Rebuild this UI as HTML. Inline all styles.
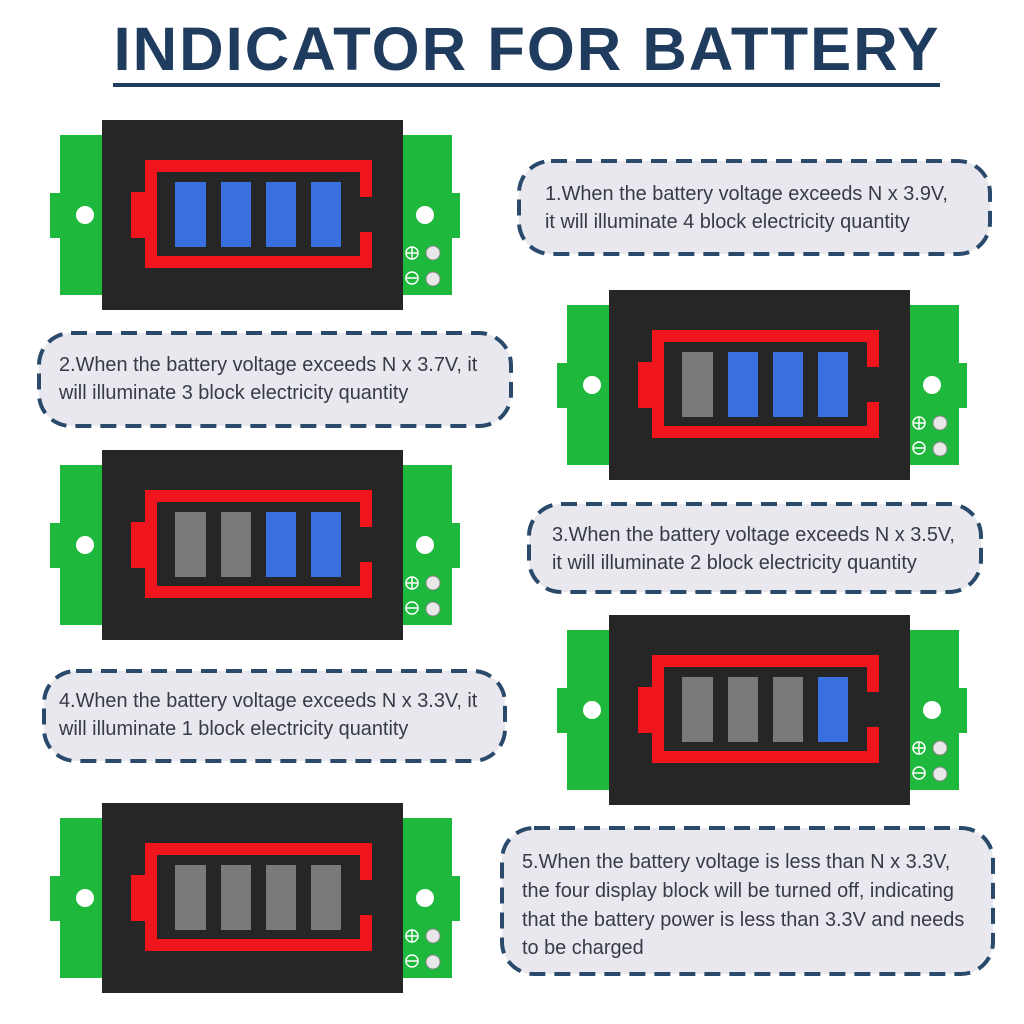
<!DOCTYPE html>
<html><head><style>
html,body{margin:0;padding:0;background:#fff;}
svg{display:block}
text{font-family:"Liberation Sans",Arial,sans-serif;}
</style></head><body>
<svg width="1024" height="1024" viewBox="0 0 1024 1024" xmlns="http://www.w3.org/2000/svg">
<defs>
<g id="mod">
  <path d="M60 135 H102 V295 H60 V238 H50 V193 H60 Z" fill="#1db83c"/>
  <path d="M403 135 H452 V193 H460 V238 H452 V295 H403 Z" fill="#1db83c"/>
  <circle cx="85" cy="215" r="9" fill="#fff"/>
  <circle cx="425" cy="215" r="9" fill="#fff"/>
  <rect x="102" y="120" width="301" height="190" fill="#262626"/>
  <path d="M145 160 H372 V197 H360 V172 H157 V256 H360 V232 H372 V268 H145 V238 H131 V192 H145 Z" fill="#f0141c"/>
  <circle cx="412" cy="253" r="6" fill="none" stroke="#fff" stroke-width="1.5"/>
  <path d="M406 253 H418 M412 247 V259" stroke="#fff" stroke-width="1.5"/>
  <circle cx="433" cy="253" r="7" fill="#e8e8e8" stroke="#888"/>
  <circle cx="412" cy="278" r="6" fill="none" stroke="#fff" stroke-width="1.5"/>
  <path d="M406 278 H418" stroke="#fff" stroke-width="1.5"/>
  <circle cx="433" cy="279" r="7" fill="#e8e8e8" stroke="#888"/>
</g>
</defs>
<text x="527" y="70" text-anchor="middle" font-size="61" font-weight="bold" fill="#1f3c5e" letter-spacing="2" textLength="827" lengthAdjust="spacingAndGlyphs">INDICATOR FOR BATTERY</text>
<rect x="113" y="83" width="827" height="4" fill="#1f3c5e"/>

<g>
<use href="#mod"/>
<rect x="175" y="182" width="31" height="65" fill="#3a6fe0"/><rect x="221" y="182" width="30" height="65" fill="#3a6fe0"/><rect x="266" y="182" width="30" height="65" fill="#3a6fe0"/><rect x="311" y="182" width="30" height="65" fill="#3a6fe0"/>
</g>
<g transform="translate(507,170)">
<use href="#mod"/>
<rect x="175" y="182" width="31" height="65" fill="#7a7a7a"/><rect x="221" y="182" width="30" height="65" fill="#3a6fe0"/><rect x="266" y="182" width="30" height="65" fill="#3a6fe0"/><rect x="311" y="182" width="30" height="65" fill="#3a6fe0"/>
</g>
<g transform="translate(0,330)">
<use href="#mod"/>
<rect x="175" y="182" width="31" height="65" fill="#7a7a7a"/><rect x="221" y="182" width="30" height="65" fill="#7a7a7a"/><rect x="266" y="182" width="30" height="65" fill="#3a6fe0"/><rect x="311" y="182" width="30" height="65" fill="#3a6fe0"/>
</g>
<g transform="translate(507,495)">
<use href="#mod"/>
<rect x="175" y="182" width="31" height="65" fill="#7a7a7a"/><rect x="221" y="182" width="30" height="65" fill="#7a7a7a"/><rect x="266" y="182" width="30" height="65" fill="#7a7a7a"/><rect x="311" y="182" width="30" height="65" fill="#3a6fe0"/>
</g>
<g transform="translate(0,683)">
<use href="#mod"/>
<rect x="175" y="182" width="31" height="65" fill="#7a7a7a"/><rect x="221" y="182" width="30" height="65" fill="#7a7a7a"/><rect x="266" y="182" width="30" height="65" fill="#7a7a7a"/><rect x="311" y="182" width="30" height="65" fill="#7a7a7a"/>
</g>

<g fill="#e8e8ee" stroke="#2a4a6b" stroke-width="4" stroke-dasharray="16 9">
<rect x="519" y="161" width="471" height="93" rx="32"/>
<rect x="39" y="333" width="472" height="93" rx="32"/>
<rect x="529" y="504" width="452" height="88" rx="32"/>
<rect x="44" y="671" width="461" height="90" rx="32"/>
<rect x="502" y="828" width="491" height="146" rx="32"/>
</g>
<g font-size="19.9" fill="#363b46">
<text x="545" y="200">1.When the battery voltage exceeds N x 3.9V,</text>
<text x="545" y="228">it will illuminate 4 block electricity quantity</text>
<text x="59" y="371">2.When the battery voltage exceeds N x 3.7V, it</text>
<text x="59" y="399">will illuminate 3 block electricity quantity</text>
<text x="552" y="541">3.When the battery voltage exceeds N x 3.5V,</text>
<text x="552" y="569">it will illuminate 2 block electricity quantity</text>
<text x="59" y="707">4.When the battery voltage exceeds N x 3.3V, it</text>
<text x="59" y="735">will illuminate 1 block electricity quantity</text>
<text x="522" y="868">5.When the battery voltage is less than N x 3.3V,</text>
<text x="522" y="897">the four display block will be turned off, indicating</text>
<text x="522" y="926">that the battery power is less than 3.3V and needs</text>
<text x="522" y="954">to be charged</text>
</g>
</svg>
</body></html>
